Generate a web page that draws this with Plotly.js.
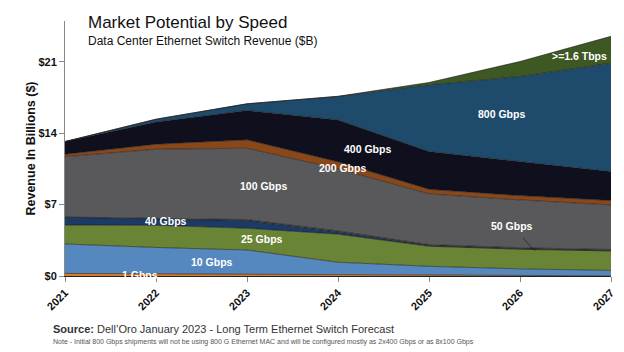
<!DOCTYPE html>
<html>
<head>
<meta charset="utf-8">
<script src="https://cdn.plot.ly/plotly-3.0.1.min.js"></script>
<style>html,body{margin:0;padding:0;background:#fff;}#chart{width:624px;height:352px;}</style>
</head>
<body>
<div id="chart"></div>
<script>
const years = [2021, 2022, 2023, 2024, 2025, 2026, 2027];
const g1    = [0.25, 0.20, 0.20, 0.10, 0.05, 0.03, 0.02];
const g10   = [2.89, 2.60, 2.35, 1.25, 0.90, 0.67, 0.53];
const g25   = [1.86, 2.17, 2.13, 2.75, 1.97, 1.92, 1.90];
const g40   = [0.76, 0.66, 0.75, 0.22, 0.06, 0.05, 0.05];
const g50   = [0.02, 0.05, 0.10, 0.10, 0.10, 0.10, 0.10];
const g100  = [5.92, 6.75, 7.00, 6.08, 4.97, 4.69, 4.37];
const g200  = [0.24, 0.49, 0.82, 0.70, 0.45, 0.42, 0.43];
const g400  = [1.24, 2.18, 2.88, 4.10, 3.70, 3.32, 2.84];
const g800  = [0.00, 0.27, 0.65, 2.30, 6.54, 8.36, 10.63];
const t16   = [0.00, 0.00, 0.00, 0.02, 0.23, 1.47, 2.63];
const yTickVals = [0, 7, 14, 21];
const yTickText = ['$0', '$7', '$14', '$21'];

const series = [
  {name: '1 Gbps', y: g1, color: '#e07b24'},
  {name: '10 Gbps', y: g10, color: '#5588bf'},
  {name: '25 Gbps', y: g25, color: '#6a8436'},
  {name: '40 Gbps', y: g40, color: '#1b3a66'},
  {name: '50 Gbps', y: g50, color: '#3a3a3a'},
  {name: '100 Gbps', y: g100, color: '#59595b'},
  {name: '200 Gbps', y: g200, color: '#8a4719'},
  {name: '400 Gbps', y: g400, color: '#0f0f1e'},
  {name: '800 Gbps', y: g800, color: '#1e4b6c'},
  {name: '>=1.6 Tbps', y: t16, color: '#3d5822'}
];

const traces = series.map(s => ({
  type: 'scatter', mode: 'lines', x: years, y: s.y, name: s.name,
  stackgroup: 'one', fillcolor: s.color,
  line: {color: '#1a1a1a', width: 0.6}, hoverinfo: 'skip'
}));

const lbl = {family: 'Liberation Sans, Arial, sans-serif', size: 10.5, color: '#ffffff', weight: 'bold'};
function ann(text, x, y, extra) {
  return Object.assign({text: '<b>' + text + '</b>', x: x, y: y, xref: 'x', yref: 'y', showarrow: false, font: lbl}, extra || {});
}
const annotations = [
  ann('1 Gbps', 2021.82, 0.12),
  ann('10 Gbps', 2022.62, 1.37),
  ann('25 Gbps', 2023.16, 3.63),
  ann('40 Gbps', 2022.11, 5.4),
  ann('100 Gbps', 2023.18, 8.83),
  ann('200 Gbps', 2024.05, 10.6),
  ann('400 Gbps', 2024.32, 12.46),
  ann('800 Gbps', 2025.80, 15.9),
  ann('>=1.6 Tbps', 2026.65, 21.6),
  ann('50 Gbps', 2026.16, 2.5, {showarrow: true, arrowhead: 0, arrowwidth: 0.8, arrowcolor: '#222', axref: 'x', ayref: 'y', ax: 2025.91, ay: 4.9, standoff: 0, startstandoff: 6}),
  {text: 'Market Potential by Speed', xref: 'paper', yref: 'paper', x: 0.038, y: 0.996, xanchor: 'left', yanchor: 'middle', showarrow: false, font: {family: 'Liberation Sans, Arial, sans-serif', size: 17, color: '#111'}},
  {text: 'Data Center Ethernet Switch Revenue ($B)', xref: 'paper', yref: 'paper', x: 0.038, y: 0.922, xanchor: 'left', yanchor: 'middle', showarrow: false, font: {family: 'Liberation Sans, Arial, sans-serif', size: 12, color: '#111'}},
  {text: '<b>Source:</b> Dell\u2019Oro January 2023 - Long Term Ethernet Switch Forecast', xref: 'paper', yref: 'paper', x: -0.025, y: -0.175, xanchor: 'left', yanchor: 'top', showarrow: false, font: {family: 'Liberation Sans, Arial, sans-serif', size: 11, color: '#333'}},
  {text: 'Note - Initial 800 Gbps shipments will not be using 800 G Ethernet MAC and will be configured mostly as 2x400 Gbps or as 8x100 Gbps', xref: 'paper', yref: 'paper', x: -0.025, y: -0.235, xanchor: 'left', yanchor: 'top', showarrow: false, font: {family: 'Liberation Sans, Arial, sans-serif', size: 7, color: '#555'}}
];

const layout = {
  width: 624, height: 352,
  margin: {l: 65, r: 13, t: 21, b: 76},
  paper_bgcolor: '#fff', plot_bgcolor: '#fff',
  showlegend: false,
  font: {family: 'Liberation Sans, Arial, sans-serif', color: '#111'},
  xaxis: {
    range: [2021, 2027], tickvals: years, ticktext: years.map(String),
    tickangle: -45, ticks: 'outside', ticklen: 5, tickcolor: '#888',
    showline: true, linecolor: '#222', linewidth: 1.2, showgrid: false, zeroline: false,
    tickfont: {size: 11, weight: 'bold', color: '#111'}
  },
  yaxis: {
    range: [0, 25], tickvals: yTickVals, ticktext: yTickText,
    ticks: 'outside', ticklen: 5, tickcolor: '#888',
    showline: true, linecolor: '#888', linewidth: 1, showgrid: false, zeroline: false,
    tickfont: {size: 11, weight: 'bold', color: '#111'},
    title: {text: 'Revenue In Billions ($)', font: {size: 12.5, weight: 'bold', color: '#111'}, standoff: 0}
  },
  annotations: annotations
};

Plotly.newPlot('chart', traces, layout, {displayModeBar: false, staticPlot: true});
</script>
</body>
</html>
